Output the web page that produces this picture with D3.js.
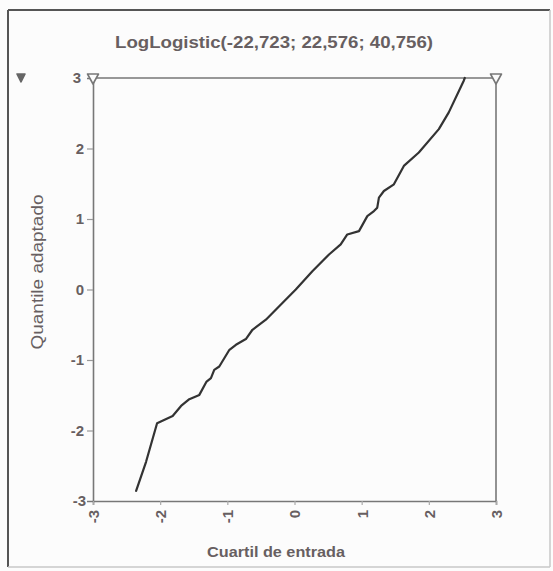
<!DOCTYPE html>
<html>
<head>
<meta charset="utf-8">
<script src="https://cdn.jsdelivr.net/npm/d3@7"></script>
<style>
  html, body { margin: 0; padding: 0; background: #fcfcfc; }
  svg { display: block; }
  text { font-family: "Liberation Sans", Arial, sans-serif; }
</style>
</head>
<body>
<svg id="chart" width="553" height="571"></svg>
<script>
const titleText = "LogLogistic(-22,723; 22,576; 40,756)";
const xLabel = "Cuartil de entrada";
const yLabel = "Quantile adaptado";
const xTicks = [-3, -2, -1, 0, 1, 2, 3];
const yTicks = [-3, -2, -1, 0, 1, 2, 3];
const qqX = [-2.358, -2.21, -2.046, -1.814, -1.689, -1.566, -1.417, -1.309, -1.244, -1.195, -1.120, -0.969, -0.872, -0.724, -0.626, -0.426, -0.180, 0.019, 0.266, 0.514, 0.688, 0.786, 0.960, 1.084, 1.183, 1.232, 1.257, 1.331, 1.480, 1.628, 1.851, 2.149, 2.297, 2.520, 2.535];
const qqY = [-2.856, -2.444, -1.898, -1.794, -1.652, -1.556, -1.495, -1.306, -1.257, -1.139, -1.092, -0.855, -0.784, -0.703, -0.571, -0.428, -0.191, 0.0, 0.259, 0.497, 0.639, 0.781, 0.828, 1.041, 1.112, 1.161, 1.303, 1.397, 1.492, 1.753, 1.943, 2.275, 2.512, 2.962, 3.0];

const svg = d3.select("#chart");
const textCol = "#675f61";
const axisCol = "#777";
const fmt = d => String(d);

// outer frame
svg.append("rect").attr("x", 0).attr("y", 0).attr("width", 553).attr("height", 571).attr("fill", "#fcfcfc");
svg.append("line").attr("x1", 8).attr("y1", 10).attr("x2", 550).attr("y2", 10).attr("stroke", "#555").attr("stroke-width", 2);
svg.append("line").attr("x1", 8).attr("y1", 10).attr("x2", 8).attr("y2", 567).attr("stroke", "#555").attr("stroke-width", 2);
svg.append("line").attr("x1", 550).attr("y1", 10).attr("x2", 550).attr("y2", 567).attr("stroke", "#c8c8c8").attr("stroke-width", 1.5);
svg.append("line").attr("x1", 8).attr("y1", 567).attr("x2", 550).attr("y2", 567).attr("stroke", "#c8c8c8").attr("stroke-width", 1.5);

const x = d3.scaleLinear().domain([-3, 3]).range([93, 496]);
const y = d3.scaleLinear().domain([-3, 3]).range([501, 78]);

// title
svg.append("text").attr("x", 274).attr("y", 47.5).attr("text-anchor", "middle")
  .attr("font-size", 17).attr("font-weight", "bold").attr("fill", textCol)
  .attr("textLength", 318).attr("lengthAdjust", "spacingAndGlyphs")
  .text(titleText);

// box top and right
svg.append("line").attr("x1", x(-3)).attr("x2", x(3)).attr("y1", y(3)).attr("y2", y(3))
  .attr("stroke", axisCol).attr("stroke-width", 1.6);
svg.append("line").attr("x1", x(3)).attr("x2", x(3)).attr("y1", y(3)).attr("y2", y(-3))
  .attr("stroke", axisCol).attr("stroke-width", 1.6);

// left axis
const gy = svg.append("g").attr("transform", `translate(${x(-3)},0)`)
  .call(d3.axisLeft(y).tickValues(yTicks).tickSize(6).tickPadding(3).tickFormat(fmt));
gy.select(".domain").attr("stroke", axisCol).attr("stroke-width", 1.6);
gy.selectAll(".tick line").attr("stroke", "#999").attr("stroke-width", 1.2);
gy.selectAll(".tick text").attr("font-size", 15).attr("font-weight", "bold").attr("fill", textCol)
  .attr("font-family", "Liberation Sans, Arial, sans-serif");
gy.selectAll(".tick").filter(d => d === 3).select("line").remove();
gy.selectAll(".tick").filter(d => d === 3).select("text").attr("x", -12).attr("dy", "0.32em");
gy.selectAll(".tick").filter(d => d === -3).select("line").remove();
gy.selectAll(".tick").filter(d => d === -3).select("text").attr("x", -7);

// bottom axis
const gx = svg.append("g").attr("transform", `translate(0,${y(-3)})`)
  .call(d3.axisBottom(x).tickValues(xTicks).tickSize(4).tickFormat(fmt));
gx.select(".domain").attr("stroke", axisCol).attr("stroke-width", 1.6);
gx.selectAll(".tick line").attr("stroke", "#aaa").attr("stroke-width", 1.2);
gx.selectAll(".tick text")
  .attr("font-size", 15).attr("font-weight", "bold").attr("fill", textCol)
  .attr("font-family", "Liberation Sans, Arial, sans-serif")
  .attr("transform", "rotate(-90)")
  .attr("text-anchor", "end")
  .attr("x", -9).attr("y", 0).attr("dy", "0.36em");

// triangles
function tri(cx, top, w, h, filled) {
  svg.append("path")
    .attr("d", `M${cx - w / 2},${top} L${cx + w / 2},${top} L${cx},${top + h} Z`)
    .attr("fill", filled ? "#666" : "#fcfcfc")
    .attr("stroke", filled ? "#666" : "#777")
    .attr("stroke-width", 1.6)
    .attr("stroke-linejoin", "round");
}
tri(x(-3), 74, 11, 10, false);
tri(x(3), 74, 11, 10, false);
tri(21, 74, 8, 8, true);

// axis labels
svg.append("text").attr("x", 276).attr("y", 557).attr("text-anchor", "middle")
  .attr("font-size", 15).attr("font-weight", "bold").attr("fill", textCol)
  .attr("textLength", 138).attr("lengthAdjust", "spacingAndGlyphs")
  .text(xLabel);
svg.append("text").attr("transform", "translate(43,272) rotate(-90)").attr("text-anchor", "middle")
  .attr("font-size", 16).attr("fill", textCol)
  .attr("textLength", 155).attr("lengthAdjust", "spacingAndGlyphs")
  .text(yLabel);

// QQ curve
const pts = qqX.map((v, i) => [v, qqY[i]]);
svg.append("path").datum(pts)
  .attr("d", d3.line().x(d => x(d[0])).y(d => y(d[1])))
  .attr("fill", "none").attr("stroke", "#333").attr("stroke-width", 2.2)
  .attr("stroke-linejoin", "round").attr("stroke-linecap", "round");
</script>
</body>
</html>
